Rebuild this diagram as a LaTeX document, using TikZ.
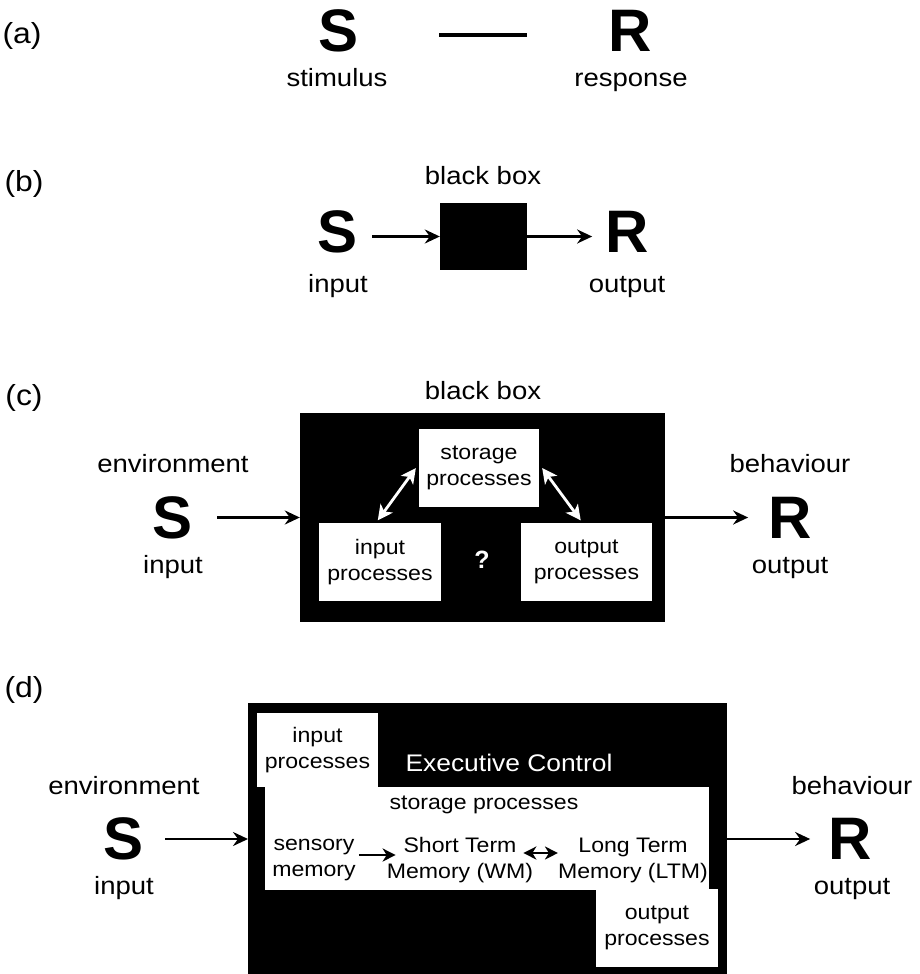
\documentclass[tikz,border=0pt]{standalone}
\usepackage{fontspec}
\setmainfont{Liberation Sans}
\newfontfamily\widefont[FakeStretch=1.1]{Liberation Sans}
\usetikzlibrary{arrows.meta}
\begin{document}
\begin{tikzpicture}[x=1pt,y=-1pt,
  lab/.style={font=\widefont\fontsize{25}{28}\selectfont, inner sep=0pt, text height=18pt, text depth=5pt},
  plab/.style={font=\widefont\fontsize{29}{32}\selectfont, inner sep=0pt},
  bigl/.style={font=\fontsize{60}{60}\selectfont\bfseries, inner sep=0pt},
  wbox/.style={fill=white, inner sep=0pt, align=center, font=\widefont\fontsize{21}{26}\selectfont},
  btxt/.style={inner sep=0pt, align=center, font=\widefont\fontsize{21}{26}\selectfont},
  blk/.style={fill=black, inner sep=0pt},
  arr/.style={line width=2.4pt, -{Stealth[length=15pt,width=14pt,inset=5pt]}},
  sarr/.style={line width=2.4pt, -{Stealth[length=13pt,width=13pt,inset=4pt]}},
  dsarr/.style={line width=2.4pt, {Stealth[length=13pt,width=13pt,inset=4pt]}-{Stealth[length=13pt,width=13pt,inset=4pt]}},
  warr/.style={white, line width=2.8pt, {Stealth[length=15pt,width=15pt,inset=4pt]}-{Stealth[length=15pt,width=15pt,inset=4pt]}}
]
\useasboundingbox (0,0) rectangle (919,974);

% (a)
\node[plab] (la) at (22,36) {(a)};
\node[bigl] (Sa) at (339,31) {S};
\node[lab] (sa) at (337,80) {stimulus};
\node[bigl] (Ra) at (630,31) {R};
\node[lab] (ra) at (631,80) {response};
\draw[line width=3.5pt, shorten <=80pt, shorten >=81pt] ([yshift=-4pt]Sa.east) -- ([yshift=-4pt]Ra.west);

% (b)
\node[plab] (lb) at (24,184) {(b)};
\node[lab] (bbl) at (483,178) {black box};
\node[blk, minimum width=87pt, minimum height=67pt] (bb) at (483.5,236.5) {};
\node[bigl] (Sb) at (338,232) {S};
\node[lab] (ib) at (338,286) {input};
\node[bigl] (Rb) at (627,232) {R};
\node[lab] (ob) at (627,286) {output};
\draw[arr, shorten <=14pt] (Sb.east |- bb.west) -- (bb.west);
\draw[arr, shorten >=13pt] (bb.east) -- (Rb.west |- bb.east);

% (c)
\node[plab] (lc) at (24,398) {(c)};
\node[lab] (bcl) at (483,393) {black box};
\node[blk, minimum width=365pt, minimum height=209pt] (bc) at (482.5,517.5) {};
\node[wbox, minimum width=120pt, minimum height=78pt] (stc) at (479,468) {storage\\processes};
\node[wbox, minimum width=122pt, minimum height=78pt] (inc) at (380,562) {input\\processes};
\node[wbox, minimum width=131pt, minimum height=78pt] (otc) at (586.5,562) {output\\processes};
\node[inner sep=0pt, text=white, font=\fontsize{25}{25}\selectfont\bfseries] (qc) at (482,560) {?};
\draw[warr, shorten <=3pt, shorten >=5pt] ([xshift=-4pt]inc.north) -- ([yshift=4pt]stc.west);
\draw[warr, shorten <=5pt, shorten >=3pt] ([yshift=4pt]stc.east) -- ([xshift=-4pt]otc.north);
\node[lab] (ec) at (173,466) {environment};
\node[bigl] (Sc) at (173,518) {S};
\node[lab] (ic) at (173,567) {input};
\node[lab] (bhc) at (790,466) {behaviour};
\node[bigl] (Rc) at (790,518) {R};
\node[lab] (oc) at (790,567) {output};
\draw[arr, shorten <=24pt] (Sc.east |- bc.west) -- (bc.west);
\draw[arr, shorten >=20pt] (bc.east) -- (Rc.west |- bc.east);

% (d)
\node[plab] (ld) at (24,690) {(d)};
\node[blk, minimum width=479pt, minimum height=271pt] (bd) at (487.5,838.5) {};
\node[wbox, minimum width=121pt, minimum height=74pt] (ind) at (317.5,750) {input\\processes};
\node[inner sep=0pt, text=white, font=\widefont\fontsize{24}{26}\selectfont] (exd) at (509,763) {Executive Control};
\node[wbox, minimum width=444pt, minimum height=103pt] (std) at (487,838.5) {};
\node[btxt] (stl) at (484,805) {storage processes};
\node[btxt] (sens) at (314,860) {sensory\\memory};
\node[btxt] (stm) at (460,860) {Short Term\\Memory (WM)};
\node[btxt] (ltm) at (633,860) {Long Term\\Memory (LTM)};
\node[wbox, minimum width=122pt, minimum height=78pt] (otd) at (657,928) {output\\processes};
\draw[sarr, shorten <=3pt, shorten >=-9pt] ([yshift=5pt]sens.east) -- ([yshift=5pt]stm.west);
\draw[dsarr, shorten <=-10pt, shorten >=0pt] ([yshift=7pt]stm.east) -- ([yshift=7pt]ltm.west);
\node[lab] (ed) at (124,788) {environment};
\node[bigl] (Sd) at (124,839) {S};
\node[lab] (idd) at (124,888) {input};
\node[lab] (bhd) at (852,788) {behaviour};
\node[bigl] (Rd) at (850,839) {R};
\node[lab] (od) at (852,888) {output};
\coordinate (dl) at (248,839);
\coordinate (dr) at (727,839);
\draw[arr, shorten <=21pt] (Sd.east |- dl) -- (dl);
\draw[arr, shorten >=18pt] (dr) -- (Rd.west |- dr);
\end{tikzpicture}
\end{document}
